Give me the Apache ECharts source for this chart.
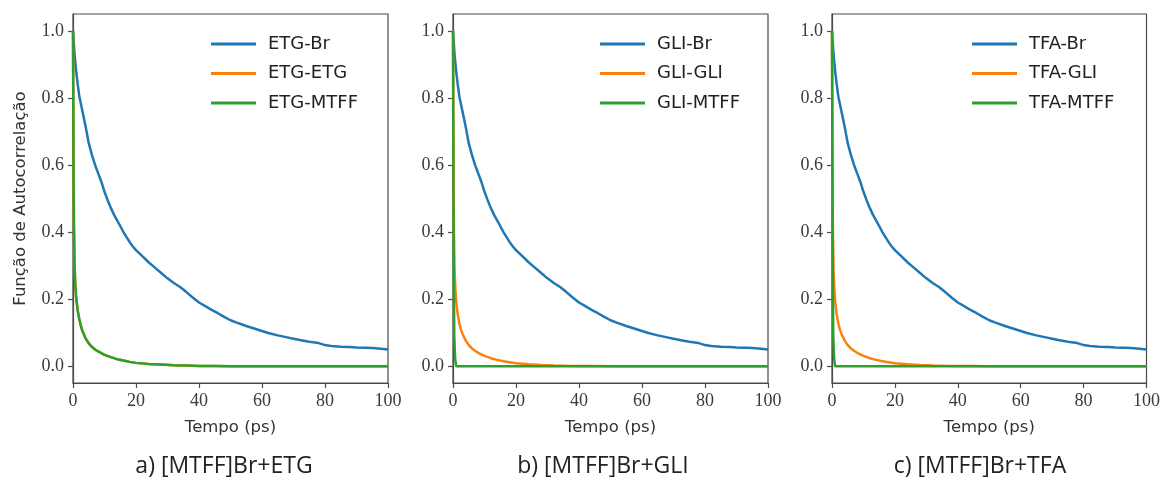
<!DOCTYPE html>
<html>
<head>
<meta charset="utf-8">
<script src="https://cdn.jsdelivr.net/npm/echarts@6/dist/echarts.min.js"></script>
<style>
  html, body { margin: 0; padding: 0; background: #ffffff; }
  #chart { width: 1163px; height: 485px; }
</style>
</head>
<body>
<div id="chart"></div>
<script>
// Time axis (ps) and tick values
const xTicks = [0, 20, 40, 60, 80, 100];
const yTicks = [0, 0.2, 0.4, 0.6, 0.8, 1.0];

// Anion (Br) autocorrelation, same sampling in every system
const tBr = [0, 0.5, 1, 1.5, 2, 3, 4, 5, 6, 7, 8, 9, 10, 11, 12, 13, 14, 15, 16, 17, 18, 19, 20, 21, 22, 24, 26, 28, 30, 32, 34, 36, 38, 40, 42, 44, 46, 48, 50, 52, 55, 58, 60, 62, 65, 68, 70, 72, 75, 78, 80, 82, 85, 88, 90, 93, 95, 97, 100];
const etgBr = [1.0, 0.93, 0.88, 0.84, 0.805, 0.76, 0.715, 0.665, 0.63, 0.6, 0.575, 0.55, 0.52, 0.495, 0.472, 0.452, 0.435, 0.418, 0.4, 0.385, 0.37, 0.357, 0.346, 0.337, 0.328, 0.31, 0.294, 0.278, 0.262, 0.248, 0.236, 0.221, 0.205, 0.19, 0.179, 0.168, 0.158, 0.147, 0.137, 0.13, 0.12, 0.111, 0.105, 0.099, 0.092, 0.086, 0.082, 0.078, 0.073, 0.069, 0.063, 0.06, 0.058, 0.057, 0.056, 0.055, 0.054, 0.053, 0.05];
const gliBr = [1.0, 0.93, 0.88, 0.84, 0.805, 0.76, 0.715, 0.665, 0.63, 0.6, 0.575, 0.55, 0.52, 0.495, 0.472, 0.452, 0.435, 0.418, 0.4, 0.385, 0.37, 0.357, 0.346, 0.337, 0.328, 0.31, 0.294, 0.278, 0.262, 0.248, 0.236, 0.221, 0.205, 0.19, 0.179, 0.168, 0.158, 0.147, 0.137, 0.13, 0.12, 0.111, 0.105, 0.099, 0.092, 0.086, 0.082, 0.078, 0.073, 0.069, 0.063, 0.06, 0.058, 0.057, 0.056, 0.055, 0.054, 0.053, 0.05];
const tfaBr = [1.0, 0.93, 0.88, 0.84, 0.805, 0.76, 0.715, 0.665, 0.63, 0.6, 0.575, 0.55, 0.52, 0.495, 0.472, 0.452, 0.435, 0.418, 0.4, 0.385, 0.37, 0.357, 0.346, 0.337, 0.328, 0.31, 0.294, 0.278, 0.262, 0.248, 0.236, 0.221, 0.205, 0.19, 0.179, 0.168, 0.158, 0.147, 0.137, 0.13, 0.12, 0.111, 0.105, 0.099, 0.092, 0.086, 0.082, 0.078, 0.073, 0.069, 0.063, 0.06, 0.058, 0.057, 0.056, 0.055, 0.054, 0.053, 0.05];

// Fast-decaying pair correlations
const tFast = [0, 0.1, 0.2, 0.3, 0.5, 0.75, 1, 1.5, 2, 2.5, 3, 4, 5, 6, 7, 8, 10, 12, 14, 16, 18, 20, 24, 28, 32, 36, 40, 45, 50, 60, 70, 80, 90, 100];
const etgEtg  = [1.0, 0.75, 0.55, 0.42, 0.3, 0.24, 0.205, 0.165, 0.14, 0.12, 0.105, 0.083, 0.068, 0.058, 0.05, 0.044, 0.034, 0.027, 0.021, 0.017, 0.013, 0.01, 0.007, 0.005, 0.003, 0.002, 0.001, 0.0005, 0, 0, 0, 0, 0, 0];
const etgMtff = [1.0, 0.75, 0.55, 0.42, 0.3, 0.24, 0.205, 0.165, 0.14, 0.12, 0.105, 0.083, 0.068, 0.058, 0.05, 0.044, 0.034, 0.027, 0.021, 0.017, 0.013, 0.01, 0.007, 0.005, 0.003, 0.002, 0.001, 0.0005, 0, 0, 0, 0, 0, 0];
const gliGli  = [1.0, 0.72, 0.52, 0.4, 0.29, 0.23, 0.195, 0.155, 0.128, 0.11, 0.097, 0.077, 0.063, 0.053, 0.046, 0.04, 0.031, 0.024, 0.019, 0.015, 0.012, 0.009, 0.006, 0.004, 0.0025, 0.0015, 0.001, 0.0005, 0, 0, 0, 0, 0, 0];
const tfaGli  = [1.0, 0.72, 0.52, 0.4, 0.29, 0.23, 0.195, 0.155, 0.128, 0.11, 0.097, 0.077, 0.063, 0.053, 0.046, 0.04, 0.031, 0.024, 0.019, 0.015, 0.012, 0.009, 0.006, 0.004, 0.0025, 0.0015, 0.001, 0.0005, 0, 0, 0, 0, 0, 0];

// MTFF cation correlation in GLI / TFA systems drops to zero within ~1 ps
const tMtff = [0, 0.2, 0.4, 0.7, 1, 2, 5, 10, 20, 40, 60, 80, 100];
const gliMtff = [1.0, 0.35, 0.09, 0.02, 0, 0, 0, 0, 0, 0, 0, 0, 0];
const tfaMtff = [1.0, 0.35, 0.09, 0.02, 0, 0, 0, 0, 0, 0, 0, 0, 0];

const panels = [
  { caption: 'a) [MTFF]Br+ETG', names: ['ETG-Br', 'ETG-ETG', 'ETG-MTFF'],
    curves: [[tBr, etgBr], [tFast, etgEtg], [tFast, etgMtff]] },
  { caption: 'b) [MTFF]Br+GLI', names: ['GLI-Br', 'GLI-GLI', 'GLI-MTFF'],
    curves: [[tBr, gliBr], [tFast, gliGli], [tMtff, gliMtff]] },
  { caption: 'c) [MTFF]Br+TFA', names: ['TFA-Br', 'TFA-GLI', 'TFA-MTFF'],
    curves: [[tBr, tfaBr], [tFast, tfaGli], [tMtff, tfaMtff]] }
];

const colors = ['#1f77b4', '#ff7f0e', '#2ca02c'];
const gridLeft = [73, 453, 832];
const legendLeft = [211, 600, 972];
const captionX = [224, 603, 980];
const gridTop = 14, gridW = 315, gridH = 369;
const axisColor = '#4a4a4a';
const tickFont = { fontFamily: 'Liberation Serif', fontSize: 18, color: '#3a3a3a' };

const zip = (t, v) => t.map((x, i) => [x, v[i]]);

const option = {
  backgroundColor: '#ffffff',
  animation: false,
  grid: [], xAxis: [], yAxis: [], legend: [], series: [], graphic: []
};

panels.forEach((p, k) => {
  option.grid.push({
    left: gridLeft[k], top: gridTop, width: gridW, height: gridH,
    show: true, borderColor: axisColor, borderWidth: 1.2, backgroundColor: 'transparent'
  });
  option.xAxis.push({
    type: 'value', gridIndex: k, min: 0, max: 100, interval: 20,
    name: 'Tempo (ps)', nameLocation: 'middle', nameGap: 36,
    nameTextStyle: { fontFamily: 'DejaVu Sans', fontSize: 16.5, color: '#333' },
    axisLine: { show: true, onZero: false, lineStyle: { color: axisColor, width: 1.2 } },
    axisTick: { show: true, length: 5, lineStyle: { color: axisColor, width: 1.2 } },
    axisLabel: Object.assign({ margin: 9, showMinLabel: true, showMaxLabel: true }, tickFont),
    splitLine: { show: false }
  });
  option.yAxis.push({
    type: 'value', gridIndex: k, min: -0.05, max: 1.05,
    name: k === 0 ? 'Função de Autocorrelação' : '',
    nameLocation: 'middle', nameGap: 44,
    nameTextStyle: { fontFamily: 'DejaVu Sans', fontSize: 16.5, color: '#333' },
    axisLine: { show: true, onZero: false, lineStyle: { color: axisColor, width: 1.2 } },
    axisTick: { show: true, length: 5, customValues: yTicks, lineStyle: { color: axisColor, width: 1.2 } },
    axisLabel: Object.assign({ margin: 9, customValues: yTicks,
      formatter: v => Number(v).toFixed(1) }, tickFont),
    splitLine: { show: false }
  });
  option.legend.push({
    data: p.names, orient: 'vertical', left: legendLeft[k], top: 35,
    icon: 'rect', itemWidth: 45, itemHeight: 3, itemGap: 11.5, padding: 0,
    textStyle: { fontFamily: 'DejaVu Sans', fontSize: 18, color: '#222',
                 padding: [0, 0, 0, 7] },
    selectedMode: false
  });
  p.curves.forEach((c, j) => {
    option.series.push({
      type: 'line', name: p.names[j], xAxisIndex: k, yAxisIndex: k,
      data: zip(c[0], c[1]), showSymbol: false, symbol: 'none', smooth: false,
      lineStyle: { color: colors[j], width: 2.5 }, itemStyle: { color: colors[j] },
      clip: true, z: 2 + j
    });
  });
  option.graphic.push({
    type: 'text', x: captionX[k], y: 466,
    style: { text: p.caption, fontFamily: 'Open Sans', fontSize: 23, fill: '#222',
             align: 'center', verticalAlign: 'middle' }
  });
});

const chart = echarts.init(document.getElementById('chart'), null, { renderer: 'canvas' });
chart.setOption(option);
</script>
</body>
</html>
